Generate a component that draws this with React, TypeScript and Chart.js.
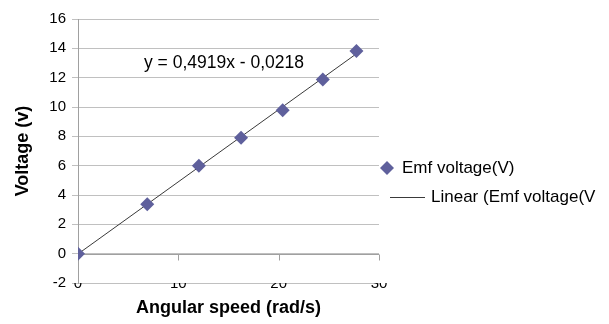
import React, { useEffect, useRef } from 'react';
import { Chart, registerables } from 'chart.js';

Chart.register(...registerables);

// ---- data ----
const speed = [0, 6.9, 12.05, 16.25, 20.4, 24.4, 27.75];
const voltage = [0, 3.37, 6.0, 7.9, 9.77, 11.87, 13.82];
const trendSpeed = [0, 27.75];
const trendVoltage = [-0.02, 13.63];
const xRange = [0, 30];
const xStep = 10;
const yRange = [-2, 16];
const yStep = 2;
const seriesLabel = 'Emf voltage(V)';
const trendLabel = 'Linear (Emf voltage(V';
const equationText = 'y = 0,4919x - 0,0218';
const xTitle = 'Angular speed (rad/s)';
const yTitle = 'Voltage (v)';

const FONT = '"Liberation Sans", Arial, sans-serif';
const MARKER = '#5f609c';
const GRID = '#c0c0c0';
const AXIS = '#a0a0a0';
const TREND = '#3a3a3a';

const zeroAxisPlugin = {
  id: 'zeroAxis',
  beforeDatasetsDraw(chart: any) {
    const { ctx, scales } = chart;
    const xs = scales.x;
    const ys = scales.y;
    const y0 = Math.round(ys.getPixelForValue(0)) + 0.5;
    ctx.save();
    ctx.strokeStyle = AXIS;
    ctx.lineWidth = 1;
    ctx.beginPath();
    ctx.moveTo(xs.left, y0);
    ctx.lineTo(xs.right, y0);
    xs.ticks.forEach((t: any) => {
      const px = Math.round(xs.getPixelForValue(t.value)) + 0.5;
      ctx.moveTo(px, y0);
      ctx.lineTo(px, y0 + 6);
    });
    ctx.stroke();
    ctx.restore();
  },
};

const annotationPlugin = {
  id: 'annotations',
  afterDraw(chart: any) {
    const { ctx, chartArea } = chart;
    ctx.save();
    // equation
    ctx.fillStyle = '#000';
    ctx.font = `17.5px ${FONT}`;
    ctx.textAlign = 'center';
    ctx.textBaseline = 'middle';
    ctx.fillText(equationText, 224, 63);

    // legend
    const lx = chartArea.right + 4;
    ctx.font = `17px ${FONT}`;
    ctx.textAlign = 'left';
    // diamond item
    const dy = 168;
    const dx = lx + 4;
    const r = 7;
    ctx.fillStyle = MARKER;
    ctx.beginPath();
    ctx.moveTo(dx - r, dy);
    ctx.lineTo(dx, dy - r);
    ctx.lineTo(dx + r, dy);
    ctx.lineTo(dx, dy + r);
    ctx.closePath();
    ctx.fill();
    ctx.fillStyle = '#000';
    ctx.fillText(seriesLabel, lx + 19, dy);
    // line item
    const ly = 197.5;
    ctx.strokeStyle = TREND;
    ctx.lineWidth = 1;
    ctx.beginPath();
    ctx.moveTo(lx + 7, ly);
    ctx.lineTo(lx + 42, ly);
    ctx.stroke();
    ctx.fillText(trendLabel, lx + 48, ly);
    ctx.restore();
  },
};

export default function App() {
  const ref = useRef<HTMLCanvasElement | null>(null);

  useEffect(() => {
    document.body.style.margin = '0';
    const canvas = ref.current;
    if (!canvas) return;
    const chart = new Chart(canvas, {
      type: 'scatter',
      data: {
        datasets: [
          {
            label: seriesLabel,
            data: speed.map((x, i) => ({ x, y: voltage[i] })),
            pointStyle: 'rectRot',
            pointRadius: 7,
            pointHoverRadius: 7,
            backgroundColor: MARKER,
            borderColor: MARKER,
            borderWidth: 0,
            showLine: false,
          },
          {
            label: trendLabel,
            data: trendSpeed.map((x, i) => ({ x, y: trendVoltage[i] })),
            showLine: true,
            borderColor: TREND,
            borderWidth: 1,
            pointRadius: 0,
            fill: false,
          },
        ],
      },
      options: {
        animation: false,
        responsive: false,
        maintainAspectRatio: false,
        events: [],
        layout: { padding: { top: 19, right: 230, left: 0, bottom: 0 } },
        plugins: {
          legend: { display: false },
          tooltip: { enabled: false },
        },
        scales: {
          x: {
            type: 'linear',
            position: 'bottom',
            min: xRange[0],
            max: xRange[1],
            ticks: {
              stepSize: xStep,
              padding: -8,
              color: '#000',
              font: { size: 15, family: FONT },
              maxRotation: 0,
            },
            grid: { display: false, drawTicks: false },
            border: { display: false },
            title: {
              display: true,
              text: xTitle,
              color: '#000',
              font: { size: 18, weight: 'bold', family: FONT },
              padding: { top: 0, bottom: 5 },
            },
            afterFit: (s: any) => {
              s.height = 41;
            },
          },
          y: {
            type: 'linear',
            min: yRange[0],
            max: yRange[1],
            ticks: {
              stepSize: yStep,
              padding: 6,
              color: '#000',
              font: { size: 15, family: FONT },
            },
            grid: { color: GRID, tickLength: 6, lineWidth: 1 },
            border: { color: AXIS },
            title: {
              display: true,
              text: yTitle,
              color: '#000',
              font: { size: 18, weight: 'bold', family: FONT },
              padding: { top: 12, bottom: 0 },
            },
            afterFit: (s: any) => {
              s.width = 78;
            },
          },
        },
      },
      plugins: [zeroAxisPlugin, annotationPlugin],
    });
    return () => chart.destroy();
  }, []);

  return (
    <div style={{ width: 609, height: 324 }}>
      <canvas ref={ref} width={609} height={324} style={{ display: 'block' }} />
    </div>
  );
}
